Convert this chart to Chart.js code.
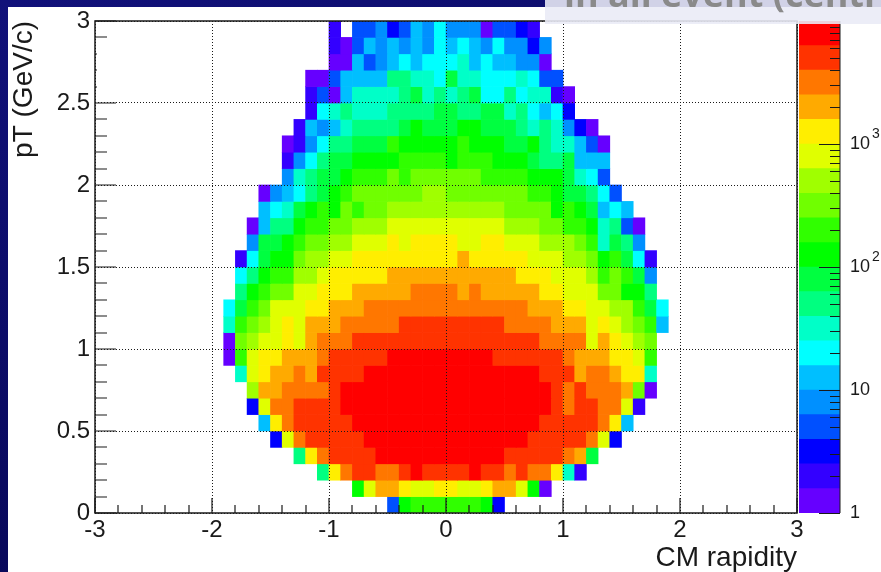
<!DOCTYPE html>
<html>
<head>
<meta charset="utf-8">
<title>pT vs CM rapidity</title>
<script src="https://cdn.jsdelivr.net/npm/chart.js@4/dist/chart.umd.min.js"></script>
<style>
  html, body { margin: 0; padding: 0; }
  body { width: 881px; height: 572px; overflow: hidden; position: relative;
         background: linear-gradient(160deg, #11117a, #04044a); }
  #sheet { position: absolute; left: 8px; top: 7px; right: 0; bottom: 0; background: #fff; }
  canvas { position: absolute; left: 0; top: 0; }
  #slideBox { position: absolute; left: 545px; top: 0; width: 336px; height: 24px; overflow: hidden;
              background: rgba(234, 235, 246, 0.89); }
  #slideBox span { position: absolute; left: 19px; top: -31px; white-space: nowrap;
                   font: bold 36px "Open Sans", sans-serif; color: #8a8a8a; }
</style>
</head>
<body>
<div id="sheet"></div>
<canvas id="histChart" width="881" height="572"></canvas>
<canvas id="paletteChart" width="881" height="572"></canvas>
<div id="slideBox"><span>in all event (centrality</span></div>
<script>
// 60 rapidity bins from -3 to 3, 30 pT bins from 0 to 3
const rapidityBinEdges = [-3, -2.9, -2.8, -2.7, -2.6, -2.5, -2.4, -2.3, -2.2, -2.1, -2, -1.9, -1.8, -1.7, -1.6, -1.5, -1.4, -1.3, -1.2, -1.1,
  -1, -0.9, -0.8, -0.7, -0.6, -0.5, -0.4, -0.3, -0.2, -0.1, 0, 0.1, 0.2, 0.3, 0.4, 0.5, 0.6, 0.7, 0.8, 0.9,
  1, 1.1, 1.2, 1.3, 1.4, 1.5, 1.6, 1.7, 1.8, 1.9, 2, 2.1, 2.2, 2.3, 2.4, 2.5, 2.6, 2.7, 2.8, 2.9];

// lower edge of each pT row, top row first
const ptRowEdges = [2.9, 2.8, 2.7, 2.6, 2.5, 2.4, 2.3, 2.2, 2.1, 2, 1.9, 1.8, 1.7, 1.6, 1.5, 1.4, 1.3, 1.2, 1.1, 1,
  0.9, 0.8, 0.7, 0.6, 0.5, 0.4, 0.3, 0.2, 0.1, 0];

// first filled rapidity bin of each row
const rowFirstBin = [20, 20, 20, 18, 18, 18, 17, 16, 16, 16, 14, 14, 13, 13, 12, 12, 12, 11, 11, 11,
  11, 12, 13, 13, 14, 15, 17, 19, 22, 25];

// colour level (0 = lowest, 19 = highest) read from each cell
const rowLevels = [
  [1,null,3,3,4,2,3,5,4,6,4,4,4,0,3,3,2,1],
  [1,0,3,5,4,5,4,5,4,6,5,6,5,4,6,4,4,2,4],
  [0,0,5,3,4,5,6,5,6,6,6,7,5,6,5,5,4,4,0],
  [0,0,3,5,5,5,5,8,8,7,7,6,9,7,7,6,6,6,7,6,3,3],
  [1,3,0,5,7,7,7,7,8,9,7,8,7,8,9,6,6,8,6,7,7,1,0],
  [1,6,7,8,7,7,7,8,8,8,8,9,9,8,8,9,9,7,8,6,5,6,2],
  [1,5,4,5,7,8,8,8,8,9,10,9,9,9,10,10,9,9,9,8,7,8,7,4,2,0],
  [0,1,4,6,8,8,9,9,9,11,10,10,10,10,10,11,10,10,10,9,9,10,8,7,7,5,3,0],
  [1,4,6,8,9,9,10,10,10,10,11,11,11,11,10,11,11,11,10,10,10,9,8,8,9,5,5,5],
  [4,7,8,9,9,10,11,11,11,12,11,12,12,12,12,12,12,11,11,11,11,10,10,10,9,7,6,3],
  [0,4,5,6,8,9,10,11,12,12,12,12,12,12,13,13,12,12,12,12,12,12,12,11,11,10,9,9,8,6,3],
  [5,6,7,9,10,11,10,12,11,12,12,13,13,13,13,13,13,13,13,13,13,12,12,12,12,10,11,10,9,5,6,5],
  [0,5,8,8,10,11,11,12,12,13,13,13,14,14,14,14,14,14,14,14,14,14,13,13,13,12,12,11,11,10,7,8,3,0],
  [4,9,9,10,11,12,12,13,13,14,14,14,15,14,15,15,15,15,14,14,15,15,14,14,14,13,13,13,12,11,7,9,8,4],
  [1,6,9,10,10,12,13,13,14,14,15,15,15,15,15,15,15,15,15,16,15,15,15,15,15,14,14,14,13,13,12,10,11,9,6,1],
  [6,8,10,11,11,13,13,14,15,15,15,15,15,16,16,16,16,16,16,16,16,16,16,16,15,15,15,14,14,14,13,11,12,11,9,4],
  [8,10,11,12,12,14,14,15,15,15,16,16,16,16,16,17,17,17,17,16,17,16,16,16,16,16,15,15,14,14,14,12,12,10,10,8],
  [6,9,11,12,14,14,14,15,15,16,16,16,17,17,17,17,17,17,17,17,17,17,17,17,17,17,16,16,16,15,15,14,14,13,13,11,9,6],
  [7,11,12,13,14,15,14,16,16,16,17,17,17,17,17,18,18,18,18,18,18,18,18,18,17,17,17,17,16,16,16,14,15,14,13,12,11,5],
  [0,12,13,14,14,15,14,16,17,17,17,18,18,18,18,18,18,18,18,18,18,18,18,18,18,18,18,17,17,17,17,14,16,15,14,13,12],
  [0,11,14,15,15,16,16,16,17,18,18,18,18,18,19,19,19,19,19,19,19,19,19,18,18,18,18,18,18,17,16,16,16,15,15,14,11],
  [7,14,15,16,16,17,16,18,18,18,18,19,19,19,19,19,19,19,19,19,19,19,19,19,19,19,18,18,18,16,17,17,16,15,15,7],
  [13,16,16,17,17,17,17,18,19,19,19,19,19,19,19,19,19,19,19,19,19,19,19,19,19,19,18,17,18,17,17,17,16,12,0],
  [2,14,17,17,18,18,18,18,19,19,19,19,19,19,19,19,19,19,19,19,19,19,19,19,19,19,18,17,18,18,17,17,14,1],
  [5,15,17,18,18,18,18,18,19,19,19,19,19,19,19,19,19,19,19,19,19,19,19,19,18,18,18,18,18,17,15,5],
  [2,14,17,18,18,18,18,18,19,19,19,19,19,19,19,19,19,19,19,19,19,19,18,18,18,18,18,17,14,2],
  [8,15,17,18,18,18,18,19,19,19,19,19,19,19,19,19,19,19,18,18,18,18,18,17,16,9],
  [8,15,17,18,18,17,17,18,19,18,18,18,18,19,18,18,17,18,17,17,15,7,1],
  [10,14,16,16,15,14,14,15,15,14,14,15,16,16,14,10,0],
  [3,10,11,11,11,11,11,11,10,2]
];

const paletteColors = ['#6600ff', '#3300ff', '#0000ff', '#0050ff', '#0090ff', '#00bfff', '#00ffff', '#00ffc8', '#00ff80', '#00ff40',
  '#00ff00', '#30ff00', '#70ff00', '#a0ff00', '#e0ff00', '#ffee00', '#ffaa00', '#ff7700', '#ff3300', '#ff0000'];
const paletteEdges = [1, 1.58, 2.51, 3.98, 6.31, 10, 15.8, 25.1, 39.8, 63.1, 100, 158, 251, 398, 631, 1000, 1585, 2512, 3981, 6310, 10000];

const rapidityTicks = [-3, -2.8, -2.6, -2.4, -2.2, -2, -1.8, -1.6, -1.4, -1.2, -1, -0.8, -0.6, -0.4, -0.2, 0, 0.2, 0.4, 0.6, 0.8,
  1, 1.2, 1.4, 1.6, 1.8, 2, 2.2, 2.4, 2.6, 2.8, 3];
const ptTicks = [0, 0.1, 0.2, 0.3, 0.4, 0.5, 0.6, 0.7, 0.8, 0.9, 1, 1.1, 1.2, 1.3, 1.4, 1.5, 1.6, 1.7, 1.8, 1.9,
  2, 2.1, 2.2, 2.3, 2.4, 2.5, 2.9, 3];
const ptStubTicks = [2.6, 2.7, 2.8];
const zTicks = [1, 2, 3, 4, 5, 6, 7, 8, 9, 10, 20, 30, 40, 50, 60, 70, 80, 90, 100, 200, 300, 400, 500, 600, 700, 800, 900,
  1000, 2000, 3000, 4000, 5000, 6000, 7000, 8000, 9000];
const zLabels = { 1: '1', 10: '10', 100: '10', 1000: '10' };
const zExponents = { 100: '2', 1000: '3' };

const FONT = '"Liberation Sans", Arial, sans-serif';
const INK = '#1a1a1a';

function isWhole(v, step) {
  return Math.abs(v / step - Math.round(v / step)) < 1e-6;
}

const rootAxes = {
  id: 'rootAxes',
  afterDatasetsDraw(chart) {
    const { ctx, chartArea: a, scales } = chart;
    ctx.save();
    ctx.strokeStyle = INK;
    ctx.lineWidth = 1.2;
    ctx.beginPath();
    rapidityTicks.forEach(v => {
      const px = Math.round(scales.xTicks.getPixelForValue(v));
      ctx.moveTo(px, a.bottom);
      ctx.lineTo(px, a.bottom - (isWhole(v, 1) ? 15 : 8));
    });
    ptTicks.forEach(v => {
      const py = Math.round(scales.y.getPixelForValue(v));
      ctx.moveTo(a.left, py);
      ctx.lineTo(a.left + (isWhole(v, 0.5) ? 21 : 12), py);
    });
    ptStubTicks.forEach(v => {
      const py = Math.round(scales.y.getPixelForValue(v));
      ctx.moveTo(a.left, py);
      ctx.lineTo(a.left + 2, py);
    });
    ctx.stroke();
    ctx.lineWidth = 1.5;
    ctx.strokeRect(a.left, a.top, a.right - a.left, a.bottom - a.top);
    ctx.restore();
  }
};

new Chart(document.getElementById('histChart'), {
  type: 'bar',
  plugins: [rootAxes],
  data: {
    labels: rapidityBinEdges,
    datasets: rowLevels.map((levels, r) => {
      const first = rowFirstBin[r];
      return {
        label: 'pT ' + ptRowEdges[r],
        data: rapidityBinEdges.map((_, i) => {
          const lvl = levels[i - first];
          return lvl === undefined || lvl === null ? null : [ptRowEdges[r], ptRowEdges[r] + 0.1];
        }),
        backgroundColor: rapidityBinEdges.map((_, i) => {
          const lvl = levels[i - first];
          return lvl === undefined || lvl === null ? 'transparent' : paletteColors[lvl];
        }),
        grouped: false,
        barPercentage: 1,
        categoryPercentage: 1,
        borderWidth: 0
      };
    })
  },
  options: {
    responsive: false,
    animation: false,
    layout: { padding: { top: 21, right: 84, left: 0, bottom: 0 } },
    plugins: { legend: { display: false }, tooltip: { enabled: false } },
    scales: {
      x: { display: false },
      xTicks: {
        type: 'linear',
        position: 'bottom',
        offset: false,
        min: -3,
        max: 3,
        afterFit(s) { s.height = 59; },
        ticks: { stepSize: 1, maxRotation: 0, font: { family: FONT, size: 24 }, color: INK, padding: 3, callback: v => String(v) },
        grid: { offset: false, color: INK, lineWidth: 1, z: 1, drawTicks: false },
        border: { display: false, dash: [1, 2] },
        title: { display: true, text: 'CM rapidity', align: 'end', color: INK, font: { family: FONT, size: 28, lineHeight: 1 }, padding: { top: 0, bottom: 0 } }
      },
      y: {
        min: 0,
        max: 3,
        afterFit(s) { s.width = 95; },
        ticks: { stepSize: 0.5, font: { family: FONT, size: 24 }, color: INK, padding: 5, callback: v => String(v) },
        grid: { color: INK, lineWidth: 1, z: 1, drawTicks: false },
        border: { display: false, dash: [1, 2] },
        title: { display: true, text: 'pT (GeV/c)', align: 'end', color: INK, font: { family: FONT, size: 28 }, padding: { top: 7, bottom: 0 } }
      }
    }
  }
});

const paletteTicks = {
  id: 'paletteTicks',
  afterDatasetsDraw(chart) {
    const { ctx, chartArea: a, scales } = chart;
    ctx.save();
    ctx.strokeStyle = INK;
    ctx.lineWidth = 1;
    ctx.beginPath();
    ctx.moveTo(a.right, a.top);
    ctx.lineTo(a.right, a.bottom);
    zTicks.forEach(v => {
      const py = Math.round(scales.y.getPixelForValue(v)) + 0.5;
      ctx.moveTo(a.right, py);
      ctx.lineTo(a.right - (zLabels[v] ? 21 : 10), py);
    });
    ctx.stroke();
    ctx.restore();
  },
  afterDraw(chart) {
    const { ctx, chartArea: a, scales } = chart;
    ctx.save();
    ctx.fillStyle = INK;
    ctx.font = '14px ' + FONT;
    ctx.textBaseline = 'middle';
    Object.keys(zExponents).forEach(v => {
      ctx.fillText(zExponents[v], a.right + 32, scales.y.getPixelForValue(Number(v)) - 10);
    });
    ctx.restore();
  }
};

new Chart(document.getElementById('paletteChart'), {
  type: 'bar',
  plugins: [paletteTicks],
  data: {
    labels: ['z'],
    datasets: paletteColors.map((color, k) => ({
      label: 'level ' + k,
      data: [[paletteEdges[k], paletteEdges[k + 1]]],
      backgroundColor: color,
      grouped: false,
      barPercentage: 1,
      categoryPercentage: 1,
      borderWidth: 0
    }))
  },
  options: {
    responsive: false,
    animation: false,
    layout: { padding: { top: 21, right: 0, left: 799, bottom: 59 } },
    plugins: { legend: { display: false }, tooltip: { enabled: false } },
    scales: {
      x: { display: false },
      y: {
        type: 'logarithmic',
        position: 'right',
        min: 1,
        max: 10000,
        afterFit(s) { s.width = 41; },
        afterBuildTicks(s) { s.ticks = Object.keys(zLabels).map(v => ({ value: Number(v) })); },
        afterTickToLabelConversion(s) { s.ticks.forEach(t => { t.label = zLabels[t.value]; }); },
        ticks: { font: { family: FONT, size: 18 }, color: INK, padding: 10, autoSkip: false },
        grid: { display: false, drawTicks: false },
        border: { display: false }
      }
    }
  }
});
</script>
</body>
</html>
